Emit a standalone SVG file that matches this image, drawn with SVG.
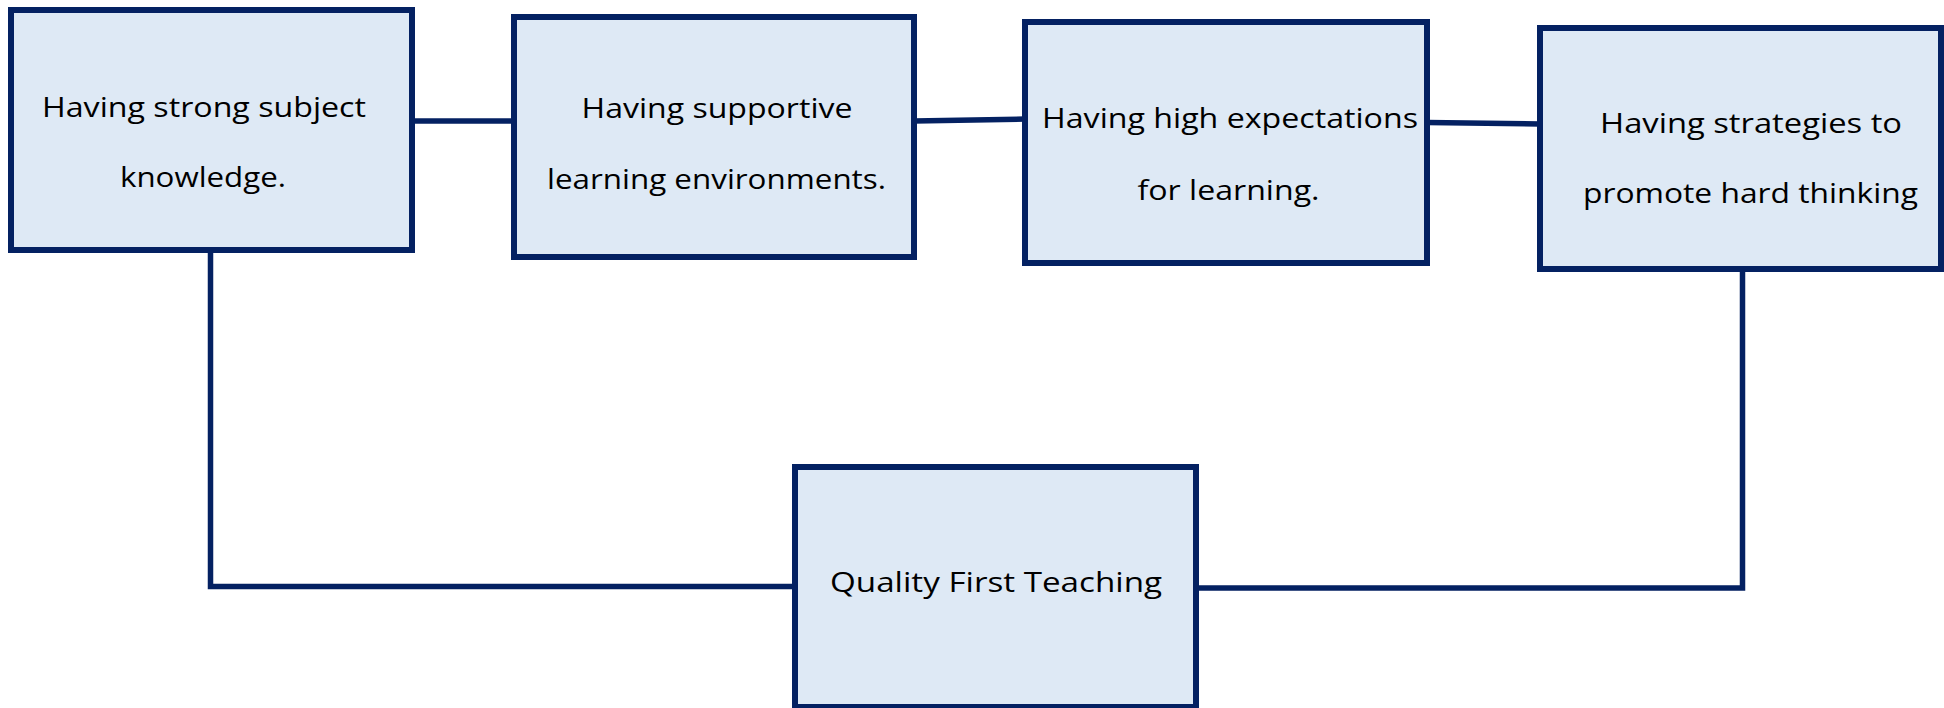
<svg xmlns="http://www.w3.org/2000/svg" width="1944" height="708" viewBox="0 0 1944 708">
<style>
.box{fill:#dee9f5;stroke:#042162;stroke-width:6}
.conn{fill:none;stroke:#042162;stroke-width:5.5}
.lbl{font-family:"Open Sans","Liberation Sans",sans-serif;font-size:28px;fill:#000;text-anchor:middle}
</style>
<rect width="1944" height="708" fill="#ffffff"/>
<g id="connectors">
<line class="conn" x1="412" y1="121" x2="514" y2="121"/>
<line class="conn" x1="914" y1="121" x2="1025" y2="119"/>
<line class="conn" x1="1427" y1="122.5" x2="1540" y2="124"/>
<polyline class="conn" points="210.5,250 210.5,586.5 795,586.5"/>
<polyline class="conn" points="1742.5,269 1742.5,588 1196,588"/>
</g>
<g id="n1">
<rect class="box" x="11" y="10" width="401" height="240"/>
<text class="lbl" x="204" y="117" textLength="324" lengthAdjust="spacingAndGlyphs">Having strong subject</text>
<text class="lbl" x="203" y="187" textLength="166" lengthAdjust="spacingAndGlyphs">knowledge.</text>
</g>
<g id="n2">
<rect class="box" x="514" y="17" width="400" height="240"/>
<text class="lbl" x="717" y="118" textLength="271" lengthAdjust="spacingAndGlyphs">Having supportive</text>
<text class="lbl" x="716.5" y="189" textLength="339" lengthAdjust="spacingAndGlyphs">learning environments.</text>
</g>
<g id="n3">
<rect class="box" x="1025" y="22" width="402" height="241"/>
<text class="lbl" x="1230" y="128" textLength="376" lengthAdjust="spacingAndGlyphs">Having high expectations</text>
<text class="lbl" x="1228.5" y="200" textLength="182" lengthAdjust="spacingAndGlyphs">for learning.</text>
</g>
<g id="n4">
<rect class="box" x="1540" y="28" width="401" height="241"/>
<text class="lbl" x="1751" y="133" textLength="302" lengthAdjust="spacingAndGlyphs">Having strategies to</text>
<text class="lbl" x="1750.5" y="203" textLength="335" lengthAdjust="spacingAndGlyphs">promote hard thinking</text>
</g>
<g id="n5">
<rect class="box" x="795" y="467" width="401" height="240"/>
<text class="lbl" x="996" y="592" textLength="332" lengthAdjust="spacingAndGlyphs">Quality First Teaching</text>
</g>
</svg>
